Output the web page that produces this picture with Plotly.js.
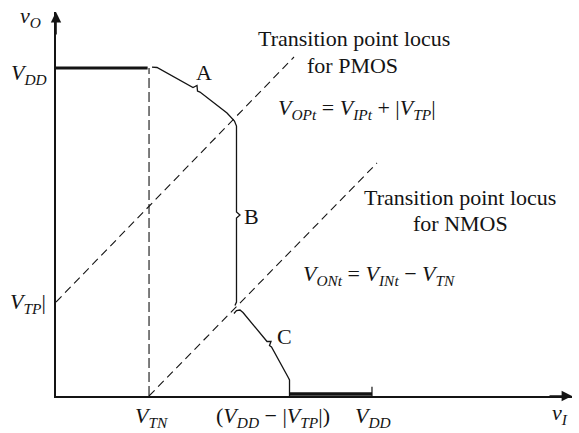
<!DOCTYPE html>
<html>
<head>
<meta charset="utf-8">
<script src="https://cdn.plot.ly/plotly-3.0.1.min.js"></script>
<style>html,body{margin:0;padding:0;background:#fff;}#chart{width:579px;height:433px;}</style>
</head>
<body>
<div id="chart"></div>
<script>
// CMOS inverter voltage transfer characteristic (volts)
const VDD = 5.0;
const VTN = 1.472;
const VTP_ABS = 1.433;
const VDD_MINUS_VTP = 3.70;   // where the output reaches zero on the sketch

// Output held at VDD while vI < VTN
const highX = [0, 1.45];
const highY = [VDD, VDD];

// Regions A and B (with their braces)
const curveABX = [1.519, 1.598, 2.168, 2.231, 2.239, 2.278, 2.706, 2.769, 2.824, 2.856, 2.856, 2.911, 2.856, 2.856, 2.832];
const curveABY = [5.015, 5.008, 4.703, 4.733, 4.649, 4.634, 4.314, 4.253, 4.192, 4.116, 2.805, 2.759, 2.713, 1.433, 1.380];

// Region C down to the axis
const curveCX = [2.816, 2.856, 2.911, 2.959, 3.339, 3.402, 3.378, 3.410, 3.671, 3.695, 3.695];
const curveCY = [1.258, 1.303, 1.311, 1.273, 0.831, 0.831, 0.770, 0.747, 0.290, 0.244, 0.0];

// Output held at zero for vI above VDD - |VTP|
const lowX = [VDD_MINUS_VTP, VDD];
const lowY = [0.03, 0.03];
const vddTickX = [VDD, VDD];
const vddTickY = [0, 0.14];

// Transition point loci and the VTN marker
const pmosLocusX = [0, 3.766];
const pmosLocusY = [VTP_ABS, 5.168];
const nmosLocusX = [VTN, 5.079];
const nmosLocusY = [0, 3.552];
const vtnLineX = [VTN, VTN];
const vtnLineY = [0, VDD];

const INK = '#141414';
const SERIF = '"Liberation Serif", "Times New Roman", serif';

function line(x, y, width, dash) {
  return {x: x, y: y, type: 'scatter', mode: 'lines', hoverinfo: 'skip',
          line: {color: INK, width: width, dash: dash || 'solid'}};
}

const traces = [
  line(vtnLineX, vtnLineY, 1.1, '10px,4px'),
  line(pmosLocusX, pmosLocusY, 1.1, '8px,5px'),
  line(nmosLocusX, nmosLocusY, 1.1, '8px,5px'),
  line(highX, highY, 3),
  line(curveABX, curveABY, 1.3),
  line(curveCX, curveCY, 1.3),
  line(lowX, lowY, 3.5),
  line(vddTickX, vddTickY, 1.2)
];

// plot area in pixels: left 56, right 572, top 12, bottom 396
const L = 56, R = 572, T = 12, B = 396;
function px(xp) { return (xp - L) / (R - L); }
function py(yp) { return (B - yp) / (B - T); }

function label(text, xp, yp, size, xanchor) {
  return {text: text, xref: 'paper', yref: 'paper', x: px(xp), y: py(yp),
          xanchor: xanchor || 'center', yanchor: 'middle', showarrow: false,
          font: {family: SERIF, size: size || 22, color: INK}};
}

const annotations = [
  label('Transition point locus', 354, 38),
  label('for PMOS', 352, 65),
  label('<i>V<sub>OPt</sub></i> = <i>V<sub>IPt</sub></i> + |<i>V<sub>TP</sub></i>|', 357, 109),
  label('Transition point locus', 460, 197),
  label('for NMOS', 460, 223),
  label('<i>V<sub>ONt</sub></i> = <i>V<sub>INt</sub></i> \u2212 <i>V<sub>TN</sub></i>', 379, 275),
  label('A', 204, 73),
  label('B', 251, 216),
  label('C', 284, 336),
  label('<i>V<sub>DD</sub></i>', 49, 74, 22, 'right'),
  label('<i>V<sub>TP</sub></i>|', 48, 303, 22, 'right'),
  label('<i>v<sub>O</sub></i>', 30, 17, 22),
  label('<i>V<sub>TN</sub></i>', 151, 417),
  label('(<i>V<sub>DD</sub></i> \u2212 |<i>V<sub>TP</sub></i>|)', 273, 417),
  label('<i>V<sub>DD</sub></i>', 373, 417),
  label('<i>v<sub>I</sub></i>', 560, 414),
  // axis arrowheads
  {xref: 'paper', yref: 'paper', x: 0, y: 1, ax: 0, ay: 24, axref: 'pixel', ayref: 'pixel',
   text: '', showarrow: true, arrowhead: 2, arrowsize: 1.3, arrowwidth: 1.6, arrowcolor: INK},
  {xref: 'paper', yref: 'paper', x: 1, y: 0, ax: -24, ay: 0, axref: 'pixel', ayref: 'pixel',
   text: '', showarrow: true, arrowhead: 2, arrowsize: 1.3, arrowwidth: 1.6, arrowcolor: INK}
];

const axisStyle = {showgrid: false, zeroline: false, showticklabels: false, ticks: '',
                   showline: true, linecolor: INK, linewidth: 1.6, fixedrange: true};

const layout = {
  width: 579, height: 433,
  margin: {l: L, r: 579 - R, t: T, b: 433 - B, pad: 0},
  paper_bgcolor: '#ffffff', plot_bgcolor: '#ffffff',
  showlegend: false,
  xaxis: Object.assign({range: [0, 8.165]}, axisStyle),
  yaxis: Object.assign({range: [0, 5.854]}, axisStyle),
  annotations: annotations
};

Plotly.newPlot('chart', traces, layout, {staticPlot: true, displayModeBar: false});
</script>
</body>
</html>
